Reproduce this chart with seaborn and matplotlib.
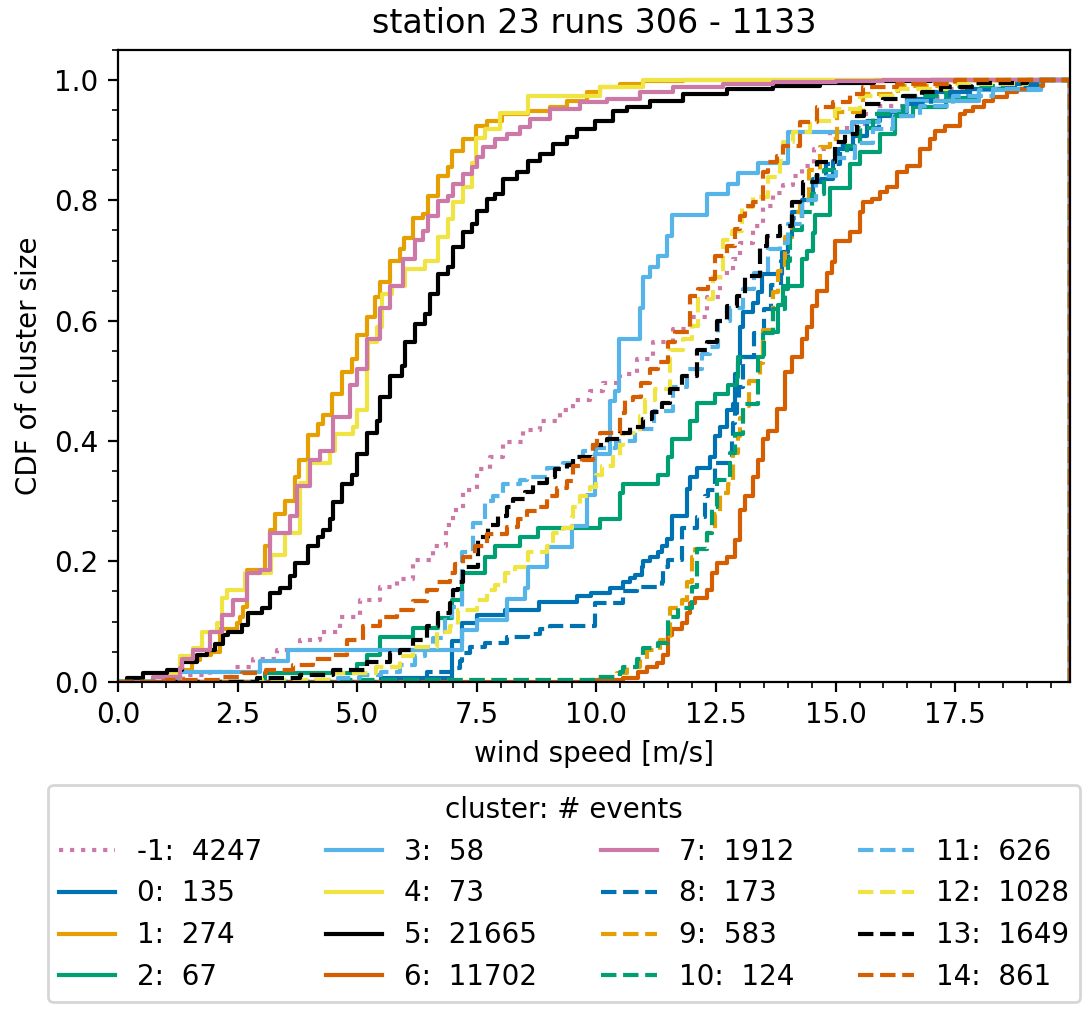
import matplotlib
matplotlib.use("Agg")
import matplotlib.pyplot as plt
import seaborn as sns

# step positions (wind speed, m/s) and cumulative fraction after each step
speed_m1 = [0, 0.94, 1.36, 1.92, 2.4, 2.82, 3.32, 3.8, 4.22, 4.64, 5.06, 5.48, 5.83, 6.17, 6.59, 6.85, 7.0, 7.21, 7.5, 7.78, 8.05, 8.47, 8.82, 9.24, 9.51, 9.87, 10.14, 10.5, 10.85, 11.19, 11.6, 11.96, 12.31, 12.59, 12.86, 13.0, 13.28, 13.49, 13.7, 13.9, 14.1, 14.3, 14.55, 14.89, 15.24, 15.6, 15.93, 16.5, 17.2, 18.0, 19.0]
cdf_m1 = [0, 0.003, 0.012, 0.017, 0.025, 0.037, 0.053, 0.07, 0.082, 0.108, 0.136, 0.158, 0.17, 0.203, 0.225, 0.26, 0.286, 0.319, 0.353, 0.374, 0.398, 0.419, 0.433, 0.452, 0.469, 0.483, 0.497, 0.511, 0.536, 0.564, 0.586, 0.607, 0.64, 0.68, 0.702, 0.73, 0.757, 0.79, 0.813, 0.825, 0.84, 0.857, 0.885, 0.913, 0.927, 0.943, 0.957, 0.972, 0.985, 0.993, 1.0]

speed_0 = [0, 5.5, 6.98, 7.19, 7.5, 8.09, 8.8, 9.6, 9.89, 10.29, 10.55, 10.7, 10.8, 10.96, 10.98, 11.12, 11.29, 11.38, 11.48, 11.58, 11.9, 11.96, 12.1, 12.38, 12.48, 12.59, 12.73, 12.86, 12.9, 12.96, 13.0, 13.07, 13.28, 13.38, 13.46, 13.88, 14.0, 14.09, 14.3, 14.53, 14.95, 15.05, 15.37, 15.66, 15.93, 16.5, 17.04, 17.75, 18.6, 19.2]
cdf_0 = [0, 0.007, 0.067, 0.098, 0.111, 0.12, 0.133, 0.142, 0.148, 0.156, 0.165, 0.173, 0.178, 0.191, 0.2, 0.208, 0.216, 0.225, 0.238, 0.275, 0.32, 0.341, 0.356, 0.373, 0.408, 0.423, 0.452, 0.461, 0.511, 0.53, 0.59, 0.614, 0.63, 0.647, 0.677, 0.714, 0.739, 0.78, 0.8, 0.835, 0.865, 0.885, 0.907, 0.932, 0.947, 0.968, 0.98, 0.985, 0.993, 1.0]

speed_1 = [0, 1.0, 1.3, 1.55, 1.71, 1.95, 2.13, 2.49, 2.55, 2.62, 2.7, 3.07, 3.18, 3.28, 3.49, 3.7, 3.78, 3.97, 4.18, 4.29, 4.47, 4.68, 4.89, 5.0, 5.2, 5.37, 5.48, 5.69, 5.9, 5.98, 6.17, 6.38, 6.48, 6.69, 6.9, 6.98, 7.21, 7.48, 7.71, 8.03, 8.57, 9.03, 9.39, 9.8, 10.08, 10.5, 10.98, 11.8]
cdf_1 = [0, 0.007, 0.02, 0.036, 0.045, 0.05, 0.087, 0.098, 0.108, 0.125, 0.186, 0.225, 0.253, 0.278, 0.3, 0.341, 0.369, 0.41, 0.428, 0.444, 0.478, 0.514, 0.536, 0.577, 0.607, 0.64, 0.664, 0.699, 0.719, 0.737, 0.77, 0.777, 0.807, 0.84, 0.855, 0.882, 0.902, 0.923, 0.932, 0.943, 0.948, 0.955, 0.965, 0.98, 0.988, 0.993, 0.998, 1.0]

speed_2 = [0, 3.07, 5.0, 5.2, 5.48, 6.17, 6.68, 6.98, 7.19, 7.67, 7.88, 8.4, 8.78, 10.08, 10.5, 10.56, 11.29, 11.5, 11.58, 11.96, 12.1, 12.48, 12.75, 12.94, 12.96, 13.49, 13.8, 13.9, 14.3, 14.4, 14.53, 14.57, 14.89, 15.3, 15.51, 15.93, 16.24, 16.62, 17.3, 18.0, 19.3]
cdf_2 = [0, 0.015, 0.03, 0.045, 0.075, 0.09, 0.106, 0.136, 0.181, 0.208, 0.225, 0.24, 0.255, 0.27, 0.314, 0.328, 0.344, 0.373, 0.403, 0.433, 0.463, 0.478, 0.494, 0.507, 0.539, 0.582, 0.627, 0.657, 0.702, 0.716, 0.746, 0.776, 0.821, 0.86, 0.88, 0.91, 0.94, 0.955, 0.97, 0.985, 1.0]

speed_3 = [0, 1.25, 2.97, 3.55, 7.19, 7.5, 8.13, 8.51, 8.57, 8.97, 9.49, 9.8, 9.97, 10.29, 10.39, 10.48, 10.91, 10.98, 11.12, 11.29, 11.48, 11.58, 12.31, 12.75, 12.96, 13.38, 14.0, 15.35, 15.9, 16.5, 18.0, 19.3]
cdf_3 = [0, 0.017, 0.034, 0.052, 0.086, 0.103, 0.138, 0.155, 0.19, 0.224, 0.259, 0.31, 0.379, 0.466, 0.483, 0.569, 0.621, 0.672, 0.69, 0.707, 0.741, 0.776, 0.81, 0.828, 0.845, 0.862, 0.914, 0.931, 0.948, 0.966, 0.983, 1.0]

speed_4 = [0, 1.02, 1.3, 1.57, 1.76, 2.07, 2.17, 2.28, 2.66, 3.2, 3.5, 3.8, 3.97, 4.43, 4.54, 4.91, 5.0, 5.2, 5.23, 5.41, 5.52, 5.73, 6.0, 6.42, 6.69, 6.9, 7.0, 7.21, 7.4, 7.48, 7.67, 7.99, 8.57, 10.08, 10.98]
cdf_4 = [0, 0.015, 0.042, 0.056, 0.083, 0.098, 0.14, 0.153, 0.18, 0.21, 0.248, 0.33, 0.364, 0.383, 0.411, 0.424, 0.452, 0.52, 0.564, 0.59, 0.644, 0.657, 0.686, 0.699, 0.74, 0.769, 0.797, 0.822, 0.863, 0.904, 0.918, 0.945, 0.973, 0.988, 1.0]

speed_5 = [0, 0.19, 0.52, 1.02, 1.34, 1.65, 1.86, 2.03, 2.2, 2.3, 2.59, 2.72, 3.01, 3.18, 3.39, 3.6, 3.7, 3.97, 4.18, 4.29, 4.43, 4.5, 4.68, 4.89, 5.0, 5.2, 5.41, 5.48, 5.69, 5.94, 6.0, 6.21, 6.42, 6.52, 6.69, 6.9, 7.0, 7.21, 7.4, 7.5, 7.71, 7.88, 8.05, 8.34, 8.57, 8.82, 9.09, 9.39, 9.6, 9.97, 10.35, 10.64, 11.12, 11.81, 12.73, 13.7, 14.68, 15.8, 17.0]
cdf_5 = [0, 0.007, 0.015, 0.02, 0.032, 0.045, 0.053, 0.062, 0.078, 0.083, 0.095, 0.115, 0.123, 0.148, 0.156, 0.175, 0.198, 0.225, 0.24, 0.253, 0.27, 0.298, 0.328, 0.344, 0.378, 0.414, 0.433, 0.473, 0.508, 0.524, 0.564, 0.594, 0.611, 0.644, 0.677, 0.69, 0.722, 0.747, 0.76, 0.782, 0.802, 0.81, 0.835, 0.847, 0.865, 0.877, 0.894, 0.905, 0.918, 0.932, 0.948, 0.955, 0.965, 0.977, 0.985, 0.99, 0.995, 0.998, 1.0]

speed_6 = [0, 10.0, 10.56, 10.87, 11.06, 11.27, 11.39, 11.5, 11.58, 11.79, 11.9, 11.96, 12.06, 12.31, 12.42, 12.52, 12.73, 12.9, 13.0, 13.11, 13.28, 13.38, 13.49, 13.59, 13.78, 13.95, 14.09, 14.3, 14.4, 14.51, 14.61, 14.82, 14.93, 14.99, 15.3, 15.51, 15.58, 15.76, 15.93, 16.08, 16.29, 16.5, 16.77, 16.98, 17.08, 17.29, 17.6, 17.71, 17.88, 18.1, 18.3, 18.59, 18.8, 19.13, 19.34]
cdf_6 = [0, 0.003, 0.007, 0.017, 0.025, 0.031, 0.045, 0.078, 0.087, 0.098, 0.115, 0.131, 0.14, 0.153, 0.181, 0.198, 0.208, 0.236, 0.286, 0.308, 0.341, 0.369, 0.403, 0.416, 0.453, 0.514, 0.539, 0.569, 0.59, 0.624, 0.649, 0.68, 0.697, 0.732, 0.747, 0.78, 0.797, 0.802, 0.814, 0.822, 0.847, 0.857, 0.885, 0.902, 0.915, 0.923, 0.943, 0.948, 0.955, 0.965, 0.972, 0.98, 0.985, 0.99, 1.0]

speed_7 = [0, 0.73, 1.3, 1.34, 1.57, 1.92, 2.17, 2.4, 2.7, 2.97, 3.18, 3.6, 3.74, 4.01, 4.22, 4.5, 4.85, 5.0, 5.2, 5.48, 5.69, 5.96, 6.21, 6.38, 6.48, 6.69, 6.9, 7.0, 7.21, 7.4, 7.5, 7.63, 7.88, 8.13, 8.4, 8.61, 9.03, 9.66, 10.22, 10.91, 11.6, 12.65, 13.7, 15.0, 16.0]
cdf_7 = [0, 0.008, 0.023, 0.037, 0.053, 0.082, 0.111, 0.136, 0.181, 0.186, 0.248, 0.275, 0.325, 0.369, 0.383, 0.44, 0.494, 0.52, 0.569, 0.622, 0.657, 0.702, 0.735, 0.749, 0.774, 0.799, 0.807, 0.827, 0.844, 0.855, 0.872, 0.889, 0.902, 0.91, 0.922, 0.935, 0.952, 0.963, 0.968, 0.98, 0.988, 0.993, 0.997, 0.999, 1.0]

speed_8 = [0, 6.46, 6.98, 7.15, 7.19, 7.36, 7.67, 8.13, 8.57, 8.82, 9.03, 9.97, 10.56, 10.85, 11.37, 11.4, 11.5, 11.79, 12.1, 12.27, 12.33, 12.48, 12.84, 12.86, 12.9, 12.94, 12.98, 13.07, 13.3, 13.5, 13.65, 13.85, 14.0, 14.1, 14.3, 14.5, 14.8, 15.1, 15.5, 15.9, 16.4, 17.0, 17.8, 18.5, 19.2]
cdf_8 = [0, 0.017, 0.023, 0.035, 0.048, 0.058, 0.065, 0.075, 0.08, 0.087, 0.092, 0.131, 0.15, 0.158, 0.165, 0.191, 0.203, 0.256, 0.273, 0.308, 0.319, 0.364, 0.403, 0.43, 0.447, 0.469, 0.49, 0.54, 0.58, 0.62, 0.66, 0.7, 0.74, 0.77, 0.8, 0.83, 0.86, 0.89, 0.92, 0.94, 0.96, 0.975, 0.985, 0.99, 1.0]

speed_9 = [0, 4.0, 9.93, 10.43, 10.64, 10.91, 11.06, 11.33, 11.54, 11.79, 11.9, 12.0, 12.06, 12.31, 12.48, 12.59, 12.75, 12.86, 12.96, 13.0, 13.07, 13.2, 13.42, 13.49, 13.7, 13.8, 13.95, 14.09, 14.26, 14.45, 14.68, 14.89, 15.03, 15.58, 16.3, 17.5]
cdf_9 = [0, 0.003, 0.008, 0.015, 0.025, 0.037, 0.053, 0.07, 0.123, 0.136, 0.166, 0.208, 0.22, 0.248, 0.278, 0.314, 0.328, 0.381, 0.408, 0.439, 0.458, 0.5, 0.53, 0.585, 0.647, 0.682, 0.74, 0.78, 0.8, 0.85, 0.888, 0.902, 0.947, 0.977, 0.99, 1.0]

speed_10 = [0, 4.5, 10.0, 10.5, 10.56, 10.85, 10.98, 11.29, 11.5, 11.71, 12.0, 12.1, 12.31, 12.42, 12.52, 12.8, 12.9, 13.07, 13.38, 13.5, 13.7, 13.95, 14.0, 14.05, 14.3, 14.5, 14.75, 15.0, 15.24, 15.5, 15.79, 16.41, 17.3, 18.5]
cdf_10 = [0, 0.003, 0.008, 0.017, 0.025, 0.037, 0.056, 0.065, 0.108, 0.123, 0.158, 0.22, 0.248, 0.291, 0.336, 0.381, 0.411, 0.461, 0.536, 0.58, 0.62, 0.652, 0.7, 0.75, 0.78, 0.81, 0.85, 0.87, 0.89, 0.92, 0.943, 0.973, 0.99, 1.0]

speed_11 = [0, 3.5, 4.6, 5.06, 5.5, 5.9, 6.21, 6.42, 6.59, 6.84, 6.98, 7.19, 7.42, 7.67, 7.84, 8.05, 8.4, 8.55, 8.97, 9.3, 9.51, 9.72, 10.0, 10.4, 10.8, 11.2, 11.6, 11.9, 12.2, 12.38, 12.55, 12.8, 13.07, 13.3, 13.59, 13.84, 14.0, 14.3, 14.6, 15.0, 15.4, 15.79, 16.2, 16.77, 17.46, 18.3, 19.3]
cdf_11 = [0, 0.003, 0.007, 0.012, 0.017, 0.028, 0.042, 0.058, 0.073, 0.103, 0.125, 0.216, 0.264, 0.3, 0.308, 0.328, 0.336, 0.341, 0.356, 0.364, 0.374, 0.383, 0.389, 0.4, 0.42, 0.45, 0.49, 0.52, 0.545, 0.556, 0.6, 0.622, 0.652, 0.68, 0.719, 0.73, 0.76, 0.8, 0.84, 0.87, 0.895, 0.918, 0.94, 0.957, 0.973, 0.985, 1.0]

speed_12 = [0, 3.0, 4.5, 5.4, 5.9, 6.17, 6.67, 6.94, 7.11, 7.5, 7.71, 7.88, 8.09, 8.3, 8.55, 8.57, 8.97, 9.09, 9.3, 9.49, 9.51, 9.66, 9.87, 10.0, 10.12, 10.35, 10.5, 10.56, 10.91, 11.02, 11.23, 11.54, 11.81, 12.0, 12.13, 12.44, 12.65, 12.84, 13.05, 13.28, 13.59, 13.84, 13.9, 14.11, 14.47, 14.99, 15.51, 16.29, 17.33, 19.0]
cdf_12 = [0, 0.003, 0.015, 0.025, 0.042, 0.058, 0.082, 0.092, 0.12, 0.136, 0.153, 0.161, 0.181, 0.19, 0.198, 0.215, 0.225, 0.248, 0.256, 0.273, 0.291, 0.308, 0.324, 0.344, 0.358, 0.373, 0.394, 0.414, 0.441, 0.469, 0.486, 0.552, 0.569, 0.591, 0.636, 0.672, 0.735, 0.749, 0.789, 0.805, 0.839, 0.866, 0.897, 0.913, 0.932, 0.952, 0.973, 0.985, 0.993, 1.0]

speed_13 = [0, 2.9, 3.8, 4.5, 5.2, 5.69, 5.9, 6.17, 6.46, 6.69, 6.94, 7.0, 7.11, 7.21, 7.53, 7.74, 7.95, 8.13, 8.26, 8.51, 8.68, 8.97, 9.14, 9.39, 9.51, 9.93, 10.22, 10.5, 10.7, 10.98, 11.16, 11.37, 11.54, 11.79, 12.1, 12.31, 12.52, 12.73, 12.94, 13.11, 13.42, 13.57, 13.84, 14.09, 14.26, 14.32, 14.61, 14.99, 15.2, 15.45, 15.6, 16.0, 16.4, 16.8, 17.2, 17.9, 19.0]
cdf_13 = [0, 0.007, 0.012, 0.02, 0.033, 0.048, 0.053, 0.07, 0.092, 0.115, 0.131, 0.153, 0.165, 0.191, 0.241, 0.261, 0.275, 0.291, 0.303, 0.316, 0.331, 0.341, 0.353, 0.361, 0.373, 0.394, 0.403, 0.414, 0.424, 0.436, 0.449, 0.464, 0.486, 0.508, 0.552, 0.564, 0.599, 0.624, 0.641, 0.674, 0.724, 0.741, 0.757, 0.797, 0.807, 0.83, 0.864, 0.897, 0.91, 0.94, 0.96, 0.968, 0.973, 0.98, 0.988, 0.995, 1.0]

speed_14 = [0, 1.0, 2.2, 2.6, 3.1, 3.66, 4.08, 4.5, 4.79, 5.12, 5.48, 5.83, 6.17, 6.46, 6.67, 6.94, 7.05, 7.21, 7.46, 7.71, 8.13, 8.36, 8.55, 8.76, 8.97, 9.18, 9.39, 9.51, 9.7, 9.93, 10.01, 10.08, 10.5, 10.6, 10.77, 10.94, 11.12, 11.29, 11.5, 11.65, 11.96, 12.13, 12.33, 12.48, 12.73, 12.9, 13.0, 13.11, 13.28, 13.49, 13.59, 13.78, 13.9, 14.26, 14.61, 14.95, 15.3, 15.58, 16.29, 17.5]
cdf_14 = [0, 0.003, 0.008, 0.015, 0.02, 0.028, 0.037, 0.045, 0.07, 0.092, 0.108, 0.12, 0.135, 0.153, 0.166, 0.181, 0.195, 0.208, 0.225, 0.245, 0.258, 0.27, 0.283, 0.291, 0.308, 0.322, 0.333, 0.358, 0.369, 0.394, 0.408, 0.414, 0.447, 0.469, 0.474, 0.497, 0.519, 0.531, 0.564, 0.582, 0.641, 0.652, 0.669, 0.707, 0.724, 0.752, 0.774, 0.79, 0.797, 0.847, 0.864, 0.874, 0.89, 0.93, 0.955, 0.963, 0.977, 0.988, 0.993, 1.0]

clusters = [-1, 0, 1, 2, 3, 4, 5, 6, 7, 8, 9, 10, 11, 12, 13, 14]
n_events = [4247, 135, 274, 67, 58, 73, 21665, 11702, 1912, 173, 583, 124, 626, 1028, 1649, 861]
speeds = [speed_m1, speed_0, speed_1, speed_2, speed_3, speed_4, speed_5, speed_6, speed_7,
          speed_8, speed_9, speed_10, speed_11, speed_12, speed_13, speed_14]
cdfs = [cdf_m1, cdf_0, cdf_1, cdf_2, cdf_3, cdf_4, cdf_5, cdf_6, cdf_7,
        cdf_8, cdf_9, cdf_10, cdf_11, cdf_12, cdf_13, cdf_14]
x_max = 19.9

# Okabe-Ito colours, solid for 0-7, dashed for 8-14
okabe = ["#0072B2", "#E69F00", "#009E73", "#56B4E9", "#F0E442", "#000000", "#D55E00", "#CC79A7"]

fig = plt.figure(figsize=(5.415, 5.05), dpi=200)
ax = fig.add_axes([0.109, 0.325, 0.879, 0.6255])

for c, n, xs, ys in zip(clusters, n_events, speeds, cdfs):
    if c == -1:
        color, ls = "#CC79A7", ":"
    elif c < 8:
        color, ls = okabe[c], "-"
    else:
        color, ls = okabe[c - 8], "--"
    # close the outline at the right edge like a step histogram
    xx = list(xs) + [x_max, x_max]
    yy = list(ys) + [ys[-1], 0]
    sns.lineplot(x=xx, y=yy, ax=ax, color=color, linestyle=ls, lw=1.5,
                 drawstyle="steps-post", estimator=None, sort=False,
                 label=f"{c}:  {n}")

ax.set_xlim(0, x_max)
ax.set_ylim(0, 1.05)
ax.minorticks_on()
ax.set_xlabel("wind speed [m/s]")
ax.set_ylabel("CDF of cluster size")
ax.set_title("station 23 runs 306 - 1133")

handles, labels = ax.get_legend_handles_labels()
if ax.get_legend() is not None:
    ax.get_legend().remove()
fig.legend(handles, labels, loc="upper center", bbox_to_anchor=(0.521, 0.237),
           ncol=4, title="cluster: # events", columnspacing=2.3)

fig.savefig("out.png", dpi=200)
